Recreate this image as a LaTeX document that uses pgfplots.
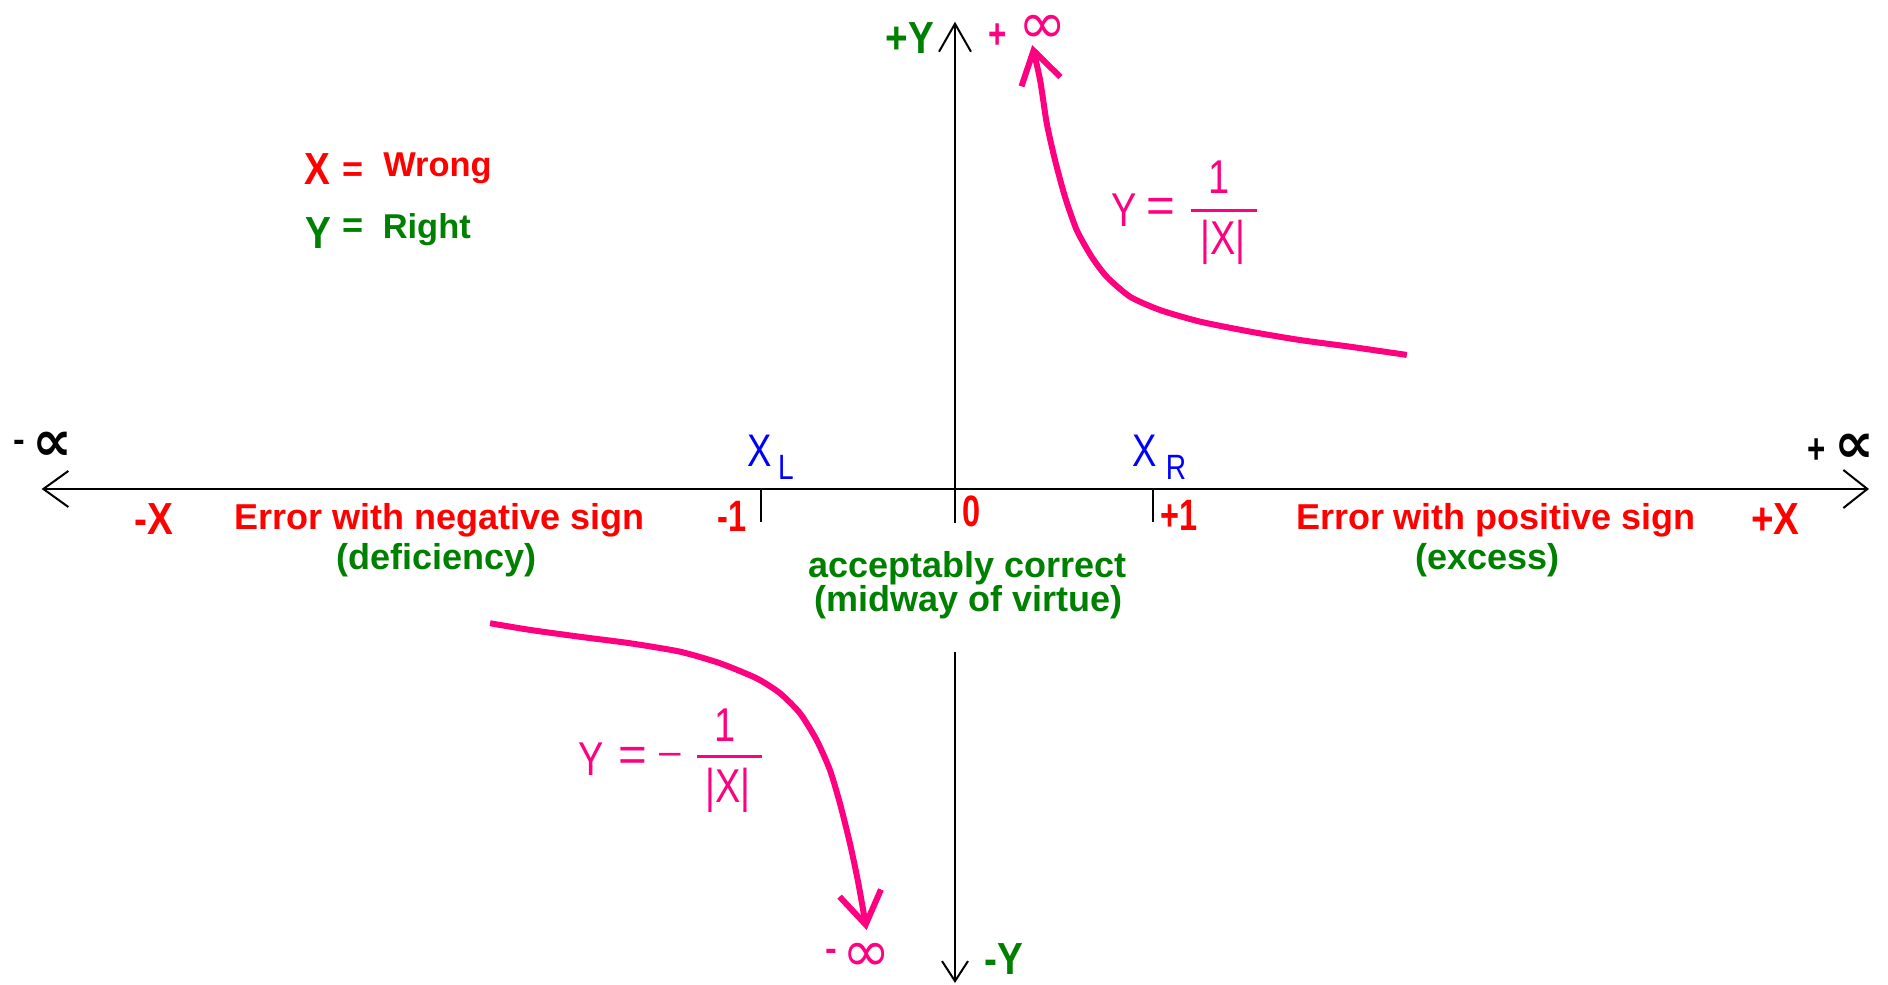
\documentclass[border=0pt]{standalone}
\usepackage{pgfplots}
\pgfplotsset{compat=1.18}
\usetikzlibrary{arrows.meta}
\usepackage{fontspec}
\setmainfont{Liberation Sans}
\newfontfamily\nar[FakeStretch=0.8]{Liberation Sans}
\newfontfamily\narb[FakeStretch=0.74]{Liberation Sans Bold}
\newfontfamily\narbw[FakeStretch=0.86]{Liberation Sans Bold}
\newfontfamily\djsans{DejaVu Sans}
\newfontfamily\djsansb{DejaVu Sans Bold}
\newcommand\fs[1]{\fontsize{#1}{#1}\selectfont}
\definecolor{cpink}{RGB}{255,0,128}
\definecolor{cgreen}{RGB}{0,128,0}
\definecolor{cred}{RGB}{255,0,0}
\definecolor{cblue}{RGB}{0,0,255}

\pgfplotstableread{
x y
2.305 0.684
2.015 0.726
1.760 0.760
1.505 0.803
1.250 0.854
1.046 0.913
0.893 0.981
0.774 1.083
0.697 1.185
0.621 1.321
0.561 1.491
0.510 1.679
0.468 1.866
0.434 2.087
0.394 2.265
}\upperdata

\pgfplotstableread{
x y
-2.372 -0.685
-2.168 -0.719
-1.913 -0.754
-1.658 -0.787
-1.403 -0.830
-1.199 -0.889
-1.012 -0.966
-0.893 -1.042
-0.791 -1.144
-0.706 -1.281
-0.638 -1.434
-0.587 -1.604
-0.536 -1.808
-0.493 -2.012
-0.451 -2.250
}\lowerdata

\begin{document}
\begin{tikzpicture}
\begin{axis}[
  hide axis, scale only axis,
  width=188.8mm, height=98.4mm,
  xmin=-4.8724, xmax=4.7602, ymin=-2.5255, ymax=2.4949,
  clip=false,
  every node/.style={inner sep=0pt, outer sep=0pt}
]
\coordinate (SW) at (axis cs:-4.8724,-2.5255);
\coordinate (NE) at (axis cs:4.7602,2.4949);

% axes
\draw[line width=0.2mm, black, {Straight Barb[length=2.5mm,width=3.6mm]}-{Straight Barb[length=2.4mm,width=3.8mm]}]
  (axis cs:-4.660,0) -- (axis cs:4.663,0);
\draw[line width=0.2mm, black, -{Straight Barb[length=2.8mm,width=3.2mm]}]
  (axis cs:0,-0.173) -- (axis cs:0,2.384);
\draw[line width=0.2mm, black, -{Straight Barb[length=2.0mm,width=2.6mm]}]
  (axis cs:0,-0.832) -- (axis cs:0,-2.520);
\draw[line width=0.2mm, black] (axis cs:-0.99,0) -- (axis cs:-0.99,-0.166);
\draw[line width=0.2mm, black] (axis cs:1.01,0) -- (axis cs:1.01,-0.166);

% curves
\addplot[cpink, line width=0.6mm, smooth, tension=0.4, -{Straight Barb[length=3.2mm,width=4mm]}] table {\upperdata};
\addplot[cpink, line width=0.6mm, smooth, tension=0.4, -{Straight Barb[length=3.2mm,width=4.2mm]}] table {\lowerdata};

% x-axis labels
\node[text=cred, font=\narbw\fs{12.8}] at (axis cs:-4.089,-0.153) {-X};
\node[text=cred, font=\bfseries\fs{10.24}] at (axis cs:-2.630,-0.161) {Error with negative sign};
\node[text=cgreen, font=\bfseries\fs{10.24}] at (axis cs:-2.645,-0.362) {(deficiency)};
\node[text=cred, font=\narb\fs{12.5}] at (axis cs:-1.138,-0.138) {-1};
\node[text=cred, font=\narb\fs{12.5}] at (axis cs:0.084,-0.113) {0};
\node[text=cred, font=\narb\fs{12.5}] at (axis cs:1.143,-0.135) {+1};
\node[text=cgreen, font=\bfseries\fs{10.24}] at (axis cs:0.064,-0.403) {acceptably correct};
\node[text=cgreen, font=\bfseries\fs{10.24}] at (axis cs:0.069,-0.575) {(midway of virtue)};
\node[text=cred, font=\bfseries\fs{10.24}] at (axis cs:2.760,-0.161) {Error with positive sign};
\node[text=cgreen, font=\bfseries\fs{10.24}] at (axis cs:2.717,-0.362) {(excess)};
\node[text=cred, font=\narbw\fs{12.8}] at (axis cs:4.186,-0.153) {+X};

% X_L, X_R
\node[text=cblue, font=\nar\fs{13}] at (axis cs:-0.995,0.194) {X};
\node[text=cblue, font=\nar\fs{10}] at (axis cs:-0.862,0.110) {L};
\node[text=cblue, font=\nar\fs{13}] at (axis cs:0.969,0.194) {X};
\node[text=cblue, font=\nar\fs{10}] at (axis cs:1.128,0.110) {R};

% infinity ends of x axis
\node[text=black, font=\bfseries\fs{10}] at (axis cs:-4.776,0.219) {-};
\node[text=black, font=\djsansb\fs{16}] at (axis cs:-4.602,0.219) {∝};
\node[text=black, font=\narb\fs{12}] at (axis cs:4.398,0.194) {+};
\node[text=black, font=\djsansb\fs{16}] at (axis cs:4.589,0.209) {∝};

% y axis ends
\node[text=cgreen, font=\narbw\fs{12.8}] at (axis cs:-0.231,2.299) {+Y};
\node[text=cpink, font=\narb\fs{12}] at (axis cs:0.217,2.31) {+};
\node[text=cpink, font=\djsans\fs{16.5}] at (axis cs:0.446,2.345) {∞};
\node[text=cpink, font=\bfseries\fs{10}] at (axis cs:-0.633,-2.378) {-};
\node[text=cpink, font=\djsans\fs{16.5}] at (axis cs:-0.449,-2.39) {∞};
\node[text=cgreen, font=\narbw\fs{12.8}] at (axis cs:0.250,-2.398) {-Y};

% legend text
\node[text=cred, font=\narbw\fs{12.8}] at (axis cs:-3.253,1.633) {X};
\node[text=cred, font=\bfseries\fs{10.24}] at (axis cs:-3.071,1.615) {=};
\node[text=cred, font=\bfseries\fs{9.8}] at (axis cs:-2.640,1.638) {Wrong};
\node[text=cgreen, font=\narbw\fs{12.8}] at (axis cs:-3.247,1.304) {Y};
\node[text=cgreen, font=\bfseries\fs{10.24}] at (axis cs:-3.071,1.332) {=};
\node[text=cgreen, font=\bfseries\fs{9.8}] at (axis cs:-2.695,1.321) {Right};

% upper formula
\node[text=cpink, font=\nar\fs{13.5}] at (axis cs:0.862,1.423) {Y};
\node[text=cpink, font=\fs{14}] at (axis cs:1.048,1.423) {=};
\draw[cpink, line width=0.3mm] (axis cs:1.204,1.423) -- (axis cs:1.541,1.423);
\node[text=cpink, font=\nar\fs{13.5}] at (axis cs:1.347,1.589) {1};
\node[text=cpink, font=\nar\fs{13.5}] at (axis cs:1.367,1.258) {|X|};

% lower formula
\node[text=cpink, font=\nar\fs{13.5}] at (axis cs:-1.855,-1.380) {Y};
\node[text=cpink, font=\fs{14}] at (axis cs:-1.645,-1.380) {=};
\node[text=cpink, font=\fs{11}] at (axis cs:-1.454,-1.378) {–};
\draw[cpink, line width=0.3mm] (axis cs:-1.316,-1.367) -- (axis cs:-0.985,-1.367);
\node[text=cpink, font=\nar\fs{13.5}] at (axis cs:-1.171,-1.204) {1};
\node[text=cpink, font=\nar\fs{13.5}] at (axis cs:-1.158,-1.536) {|X|};
\end{axis}
\pgfresetboundingbox
\useasboundingbox (SW) rectangle (NE);
\end{tikzpicture}
\end{document}
